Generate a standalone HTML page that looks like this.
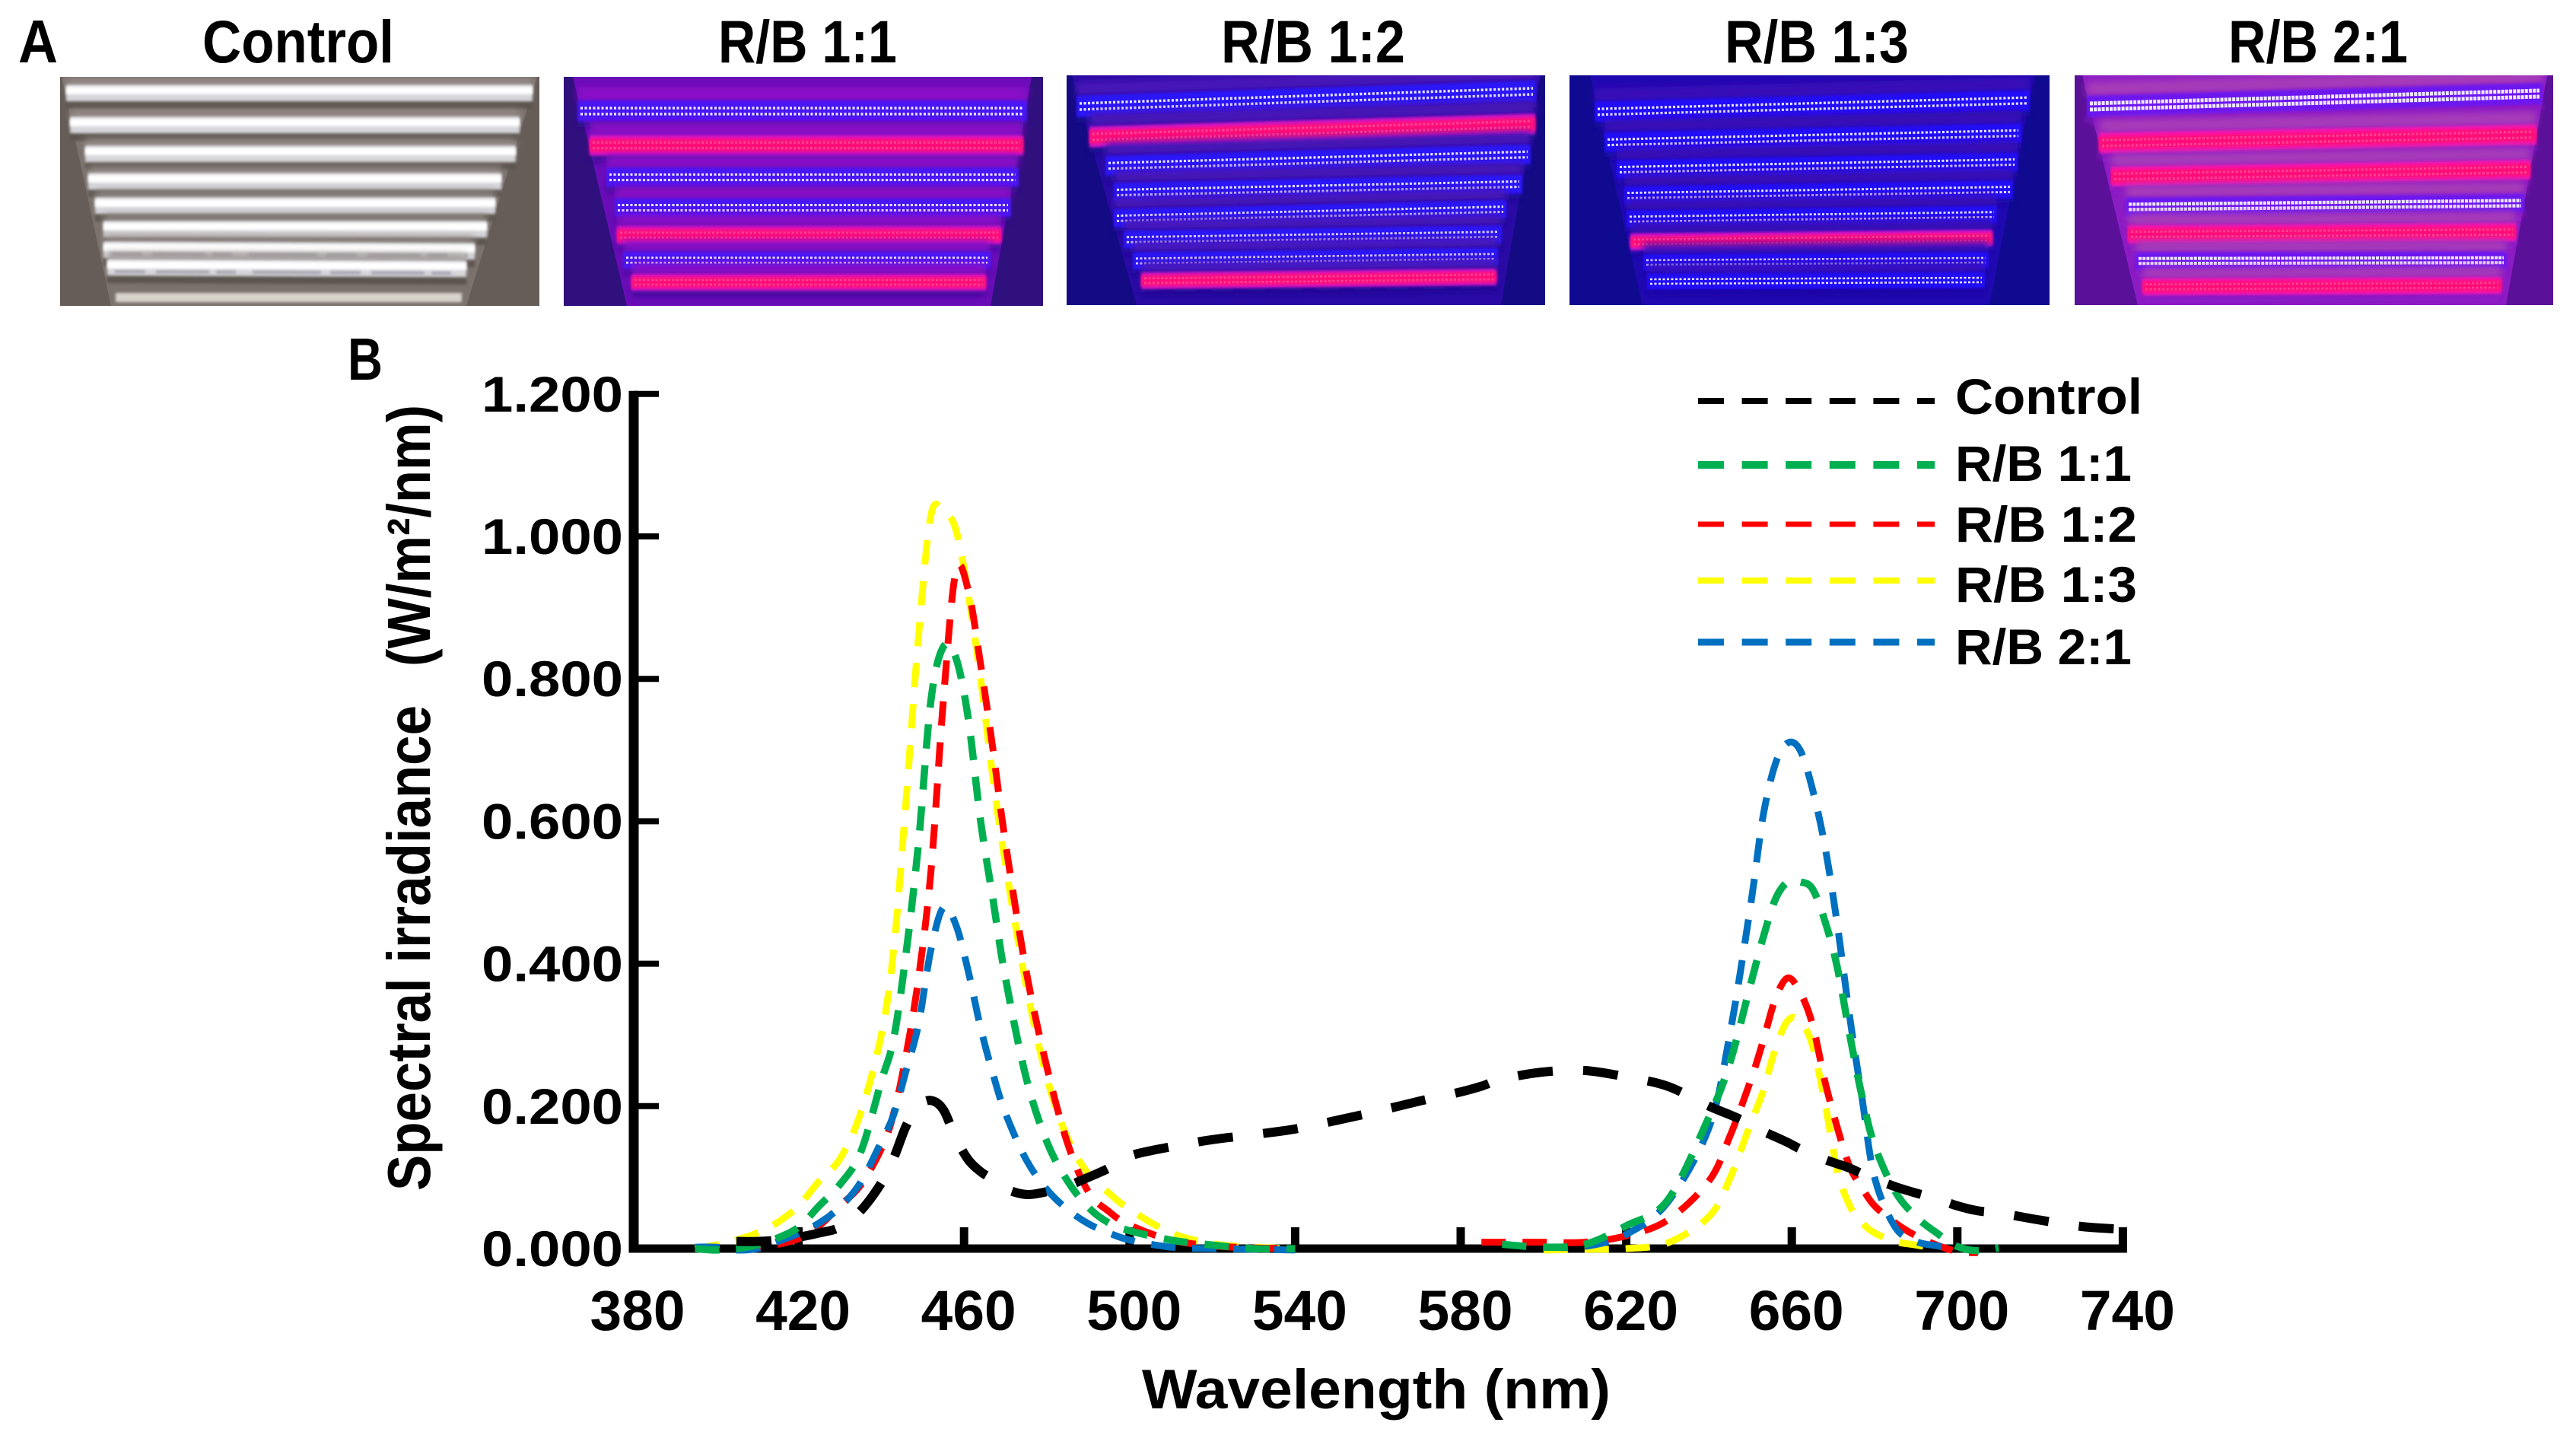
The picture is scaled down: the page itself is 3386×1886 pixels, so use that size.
<!DOCTYPE html>
<html lang="en">
<head>
<meta charset="utf-8">
<title>Light treatments and spectral irradiance</title>
<style>
html,body{margin:0;padding:0;background:#fff;width:3386px;height:1886px;overflow:hidden}
svg{display:block}
text{font-family:"Liberation Sans",sans-serif;font-weight:700;fill:#000}
</style>
</head>
<body>
<svg id="figure" xmlns="http://www.w3.org/2000/svg" width="3386" height="1886" viewBox="0 0 3386 1886">
  <defs>
    <filter id="blur-soft" x="-10%" y="-200%" width="120%" height="500%"><feGaussianBlur stdDeviation="5"/></filter>
    <filter id="blur-fine" x="-10%" y="-200%" width="120%" height="500%"><feGaussianBlur stdDeviation="1.8"/></filter>
  </defs>
  <rect x="0" y="0" width="3386" height="1886" fill="#fff"/>
  <g id="photos"></g>

  <text x="24" y="82" font-size="80" textLength="52" lengthAdjust="spacingAndGlyphs">A</text>
  <text x="266" y="82" font-size="79" textLength="252" lengthAdjust="spacingAndGlyphs">Control</text>
  <text x="944" y="82" font-size="79" textLength="235" lengthAdjust="spacingAndGlyphs">R/B 1:1</text>
  <text x="1605" y="82" font-size="79" textLength="242" lengthAdjust="spacingAndGlyphs">R/B 1:2</text>
  <text x="2267" y="82" font-size="79" textLength="242" lengthAdjust="spacingAndGlyphs">R/B 1:3</text>
  <text x="2929" y="82" font-size="79" textLength="236" lengthAdjust="spacingAndGlyphs">R/B 2:1</text>
  <text x="457" y="499" font-size="78" textLength="46" lengthAdjust="spacingAndGlyphs">B</text>

  <g id="chart"></g>

  <text transform="translate(565,1565) rotate(-90)" font-size="80" textLength="638" lengthAdjust="spacingAndGlyphs">Spectral irradiance</text>
  <text transform="translate(565,876) rotate(-90)" font-size="80" textLength="344" lengthAdjust="spacingAndGlyphs">(W/m²/nm)</text>
  <text x="1501" y="1851" font-size="73" textLength="616" lengthAdjust="spacingAndGlyphs">Wavelength (nm)</text>
</svg>

<script>
// ---------- chart data ----------
const xTickLabels = [380, 420, 460, 500, 540, 580, 620, 660, 700, 740];
const yTickLabels = ["0.000", "0.200", "0.400", "0.600", "0.800", "1.000", "1.200"];
const yTickValues = [0, 0.2, 0.4, 0.6, 0.8, 1.0, 1.2];

const seriesNames = ["Control", "R/B 1:1", "R/B 1:2", "R/B 1:3", "R/B 2:1"];

const wavelengthsBlueBand = [395,400,405,410,415,420,425,430,435,440,443,446,449,452,455,458,461,464,467,470,475,480,485,490,495,500,510,520,530,540];
const wavelengthsMid = [550,560,570,580];
const wavelengthsRedBand = [585,590,600,610,620,630,640,645,650,653,656,659,662,665,668,671,674,677,680,685,690,695,700,705,710];
const wavelengthsTail = [720,730,740];

const controlBlueBand = [null,null,.01,.01,.012,.016,.022,.03,.053,.092,.127,.172,.2,.208,.195,.155,.125,.108,.097,.084,.076,.08,.088,.1,.113,.13,.143,.153,.16,.168];
const controlMid = [.18,.193,.207,.22];
const controlRedBand = [.228,.238,.248,.25,.241,.228,.2,.188,.175,.165,.157,.149,.14,.133,.125,.119,.113,.105,.098,.087,.078,.07,.06,.053,.05];
const controlTail = [.04,.031,.027];

const rb11BlueBand = [0,-.002,0,.005,.015,.03,.06,.09,.135,.235,.295,.415,.57,.77,.845,.83,.745,.60,.49,.38,.24,.15,.095,.058,.036,.025,.012,.005,0,0];
const rb11RedBand = [null,.006,.002,.006,.032,.068,.185,.26,.37,.435,.49,.515,.515,.505,.46,.395,.30,.213,.145,.08,.045,.022,.003,-.003,.001];

const rb12BlueBand = [null,null,0,.002,.006,.014,.032,.06,.089,.14,.19,.272,.38,.53,.77,.95,.925,.82,.70,.57,.39,.255,.148,.08,.052,.033,.012,.004,.001,0];
const rb12RedBand = [.009,.009,.009,.009,.018,.04,.095,.157,.235,.29,.35,.38,.36,.315,.235,.17,.115,.085,.06,.036,.018,.005,-.004,-.006,null];

const rb13BlueBand = [0,.005,.012,.022,.037,.06,.095,.126,.19,.30,.42,.63,.86,1.03,1.035,1.01,.92,.80,.66,.54,.37,.24,.155,.105,.078,.055,.022,.007,.002,0];
const rb13RedBand = [null,null,-.002,-.001,0,.008,.045,.098,.175,.22,.28,.32,.32,.285,.205,.11,.06,.036,.022,.01,.005,0,null,null,null];

const rb21BlueBand = [.002,.002,-.002,0,.01,.021,.036,.058,.093,.15,.188,.25,.315,.42,.479,.455,.39,.31,.245,.19,.125,.083,.055,.035,.022,.012,.002,0,-.001,-.002];
const rb21RedBand = [null,null,.002,.003,.02,.065,.17,.3,.48,.605,.68,.71,.70,.645,.565,.455,.325,.21,.10,.03,.01,.004,0,null,null];

// ---------- scales ----------
const SVGNS = "http://www.w3.org/2000/svg";
const chart = document.getElementById("chart");
function xScale(nm) { return 832 + (nm - 380) * 5.44; }
function yScale(v) { return 1641 - v * 936; }

function make(tag, attrs, parent) {
  const el = document.createElementNS(SVGNS, tag);
  for (const k in attrs) el.setAttribute(k, attrs[k]);
  parent.appendChild(el);
  return el;
}

// ---------- axes ----------
const yAxisLine = make("line", {x1: 833, y1: yScale(1.2) - 4, x2: 833, y2: yScale(0) + 5.5, stroke: "#000", "stroke-width": 13}, chart);


const xAxisLine = make("line", {x1: 827, y1: yScale(0), x2: xScale(740) + 5.5, y2: yScale(0), stroke: "#000", "stroke-width": 11}, chart);



yTickValues.forEach(function (v, i) {
  const tick = make("line", {x1: 833, y1: yScale(v), x2: 866, y2: yScale(v), stroke: "#000", "stroke-width": 8}, chart);
  
  
  const label = make("text", {x: 819, y: yScale(v) + 23, "font-size": 66, "text-anchor": "end", textLength: 186, lengthAdjust: "spacingAndGlyphs"}, chart);
  label.textContent = yTickLabels[i];
  
  
});

xTickLabels.forEach(function (nm) {
  if (nm !== 380) {
    const tick = make("line", {x1: xScale(nm), y1: 1613, x2: xScale(nm), y2: 1641, stroke: "#000", "stroke-width": 11}, chart);
    
    
  }
  const label = make("text", {x: xScale(nm) + 6, y: 1748, "font-size": 74, "text-anchor": "middle", textLength: 125, lengthAdjust: "spacingAndGlyphs"}, chart);
  label.textContent = String(nm);
  
  
});

// ---------- curves ----------
function smoothPath(wl, vals) {
  const pts = [];
  wl.forEach(function (w, i) {
    if (vals[i] !== null) pts.push([xScale(w), yScale(vals[i])]);
  });
  let d = "M" + pts[0][0].toFixed(1) + " " + pts[0][1].toFixed(1);
  for (let i = 0; i < pts.length - 1; i++) {
    const p0 = pts[Math.max(i - 1, 0)], p1 = pts[i], p2 = pts[i + 1], p3 = pts[Math.min(i + 2, pts.length - 1)];
    const c1x = p1[0] + (p2[0] - p0[0]) / 6, c1y = p1[1] + (p2[1] - p0[1]) / 6;
    const c2x = p2[0] - (p3[0] - p1[0]) / 6, c2y = p2[1] - (p3[1] - p1[1]) / 6;
    d += "C" + c1x.toFixed(1) + " " + c1y.toFixed(1) + " " + c2x.toFixed(1) + " " + c2y.toFixed(1) + " " + p2[0].toFixed(1) + " " + p2[1].toFixed(1);
  }
  return d;
}

function colouredCurve(name, band, vals, colour, width) {
  const p = make("path", {d: smoothPath(band, vals), fill: "none", stroke: colour, "stroke-width": width, "stroke-dasharray": "32 22"}, chart);
  
  
}

colouredCurve("curve-rb-1-3-blue-peak", wavelengthsBlueBand, rb13BlueBand, "#ffff00", 9);
colouredCurve("curve-rb-1-3-red-peak", wavelengthsRedBand, rb13RedBand, "#ffff00", 9);
colouredCurve("curve-rb-1-2-blue-peak", wavelengthsBlueBand, rb12BlueBand, "#ff0000", 9);
colouredCurve("curve-rb-1-2-red-peak", wavelengthsRedBand, rb12RedBand, "#ff0000", 9);
colouredCurve("curve-rb-2-1-blue-peak", wavelengthsBlueBand, rb21BlueBand, "#0070c0", 9);
colouredCurve("curve-rb-2-1-red-peak", wavelengthsRedBand, rb21RedBand, "#0070c0", 9);
colouredCurve("curve-rb-1-1-blue-peak", wavelengthsBlueBand, rb11BlueBand, "#00b050", 9.5);
colouredCurve("curve-rb-1-1-red-peak", wavelengthsRedBand, rb11RedBand, "#00b050", 9.5);

const controlWavelengths = wavelengthsBlueBand.concat(wavelengthsMid, wavelengthsRedBand, wavelengthsTail);
const controlValues = controlBlueBand.concat(controlMid, controlRedBand, controlTail);
const controlCurve = make("path", {d: smoothPath(controlWavelengths, controlValues), fill: "none", stroke: "#000", "stroke-width": 12, "stroke-dasharray": "46 40"}, chart);



// ---------- legend ----------
const legendColours = ["#000000", "#00b050", "#ff0000", "#ffff00", "#0070c0"];
const legendRows = [527, 611, 689, 763, 844];
const legendBaselines = [544, 632, 712, 791, 873];
const legendWidths = [246, 232, 239, 239, 232];
const legendStrokes = [8, 10, 7, 8, 9];
const legend = make("g", {}, chart);


seriesNames.forEach(function (name, i) {
  const sw = make("line", {x1: 2232, y1: legendRows[i], x2: 2543, y2: legendRows[i], stroke: legendColours[i], "stroke-width": legendStrokes[i], "stroke-dasharray": "34 23.6"}, legend);
  
  
  const t = make("text", {x: 2570, y: legendBaselines[i], "font-size": 66, textLength: legendWidths[i], lengthAdjust: "spacingAndGlyphs"}, legend);
  t.textContent = name;
  
  
});
</script>

<script>
// ---------- photo approximations (decorative, not chart data) ----------
(function () {
  const NS = "http://www.w3.org/2000/svg";
  const root = document.getElementById("photos");
  const defs = document.querySelector("defs");
  function mk(tag, attrs, parent) {
    const el = document.createElementNS(NS, tag);
    for (const k in attrs) el.setAttribute(k, attrs[k]);
    parent.appendChild(el);
    return el;
  }
  function quad(t, off1, off2) {
    return t[0] + "," + (t[1] + off1) + " " + t[2] + "," + (t[3] + off1) + " " + t[2] + "," + (t[3] + off2) + " " + t[0] + "," + (t[1] + off2);
  }

  const panels = [
    {name: "photo-control", x: 79, y: 101, w: 630, h: 301, bg: "#7b716d", side: "#665c58", upper: "#9a908c", lower: "#5c5450", blue: "#3a14f4", core: "#3a14f4",
     tubes: [[87,122,700,122,"w"],[92,164,683,164,"w"],[112,202,678,202,"w"],[116,238,659,238,"w"],[125,270,651,270,"w"],[136,301,640,301,"w"],[136,328,624,330,"w"],[141,351,613,353,"w"],[152,391,607,391,"f"]]},
    {name: "photo-rb-1-1", x: 741, y: 101, w: 630, h: 301, bg: "#6a0cb8", side: "#30107c", upper: "#8c10c8", lower: "#2e0c90", blue: "#4a18f4", pinkHalo: "#e012c0",
     tubes: [[759,146,1350,146,"b"],[775,191,1345,191,"p"],[797,233,1339,233,"b"],[808,273,1329,273,"b"],[811,309,1316,309,"p"],[819,342,1302,342,"b"],[830,371,1296,371,"p"]]},
    {name: "photo-rb-1-2", x: 1402, y: 99, w: 629, h: 302, bg: "#2a0aa4", side: "#140a84", upper: "#4a12b8", lower: "#180a8c", blue: "#2a14f8", pinkHalo: "#d814c4",
     tubes: [[1415,140,2019,120,"b"],[1432,180,2018,163,"p"],[1453,218,2012,203,"b"],[1464,253,2001,242,"b"],[1464,287,1980,275,"b"],[1477,315,1974,308,"b"],[1489,343,1969,337,"b"],[1500,369,1967,364,"p"]]},
    {name: "photo-rb-1-3", x: 2063, y: 99, w: 631, h: 302, bg: "#2008b0", side: "#100a90", upper: "#3a10b8", lower: "#140a9c", blue: "#2410f8", pinkHalo: "#d814d0",
     tubes: [[2096,147,2668,132,"b"],[2109,187,2657,175,"b"],[2125,223,2652,213,"b"],[2135,257,2646,249,"b"],[2138,288,2625,282,"b"],[2143,318,2619,313,"p"],[2160,345,2614,342,"b"],[2165,370,2609,368,"b"]]},
    {name: "photo-rb-2-1", x: 2727, y: 99, w: 629, h: 302, bg: "#8c1cc4", side: "#5a1098", upper: "#a83cb8", lower: "#8a14c4", blue: "#6c18f0", pinkHalo: "#f818b0",
     tubes: [[2743,140,3342,123,"s"],[2759,188,3334,177,"P"],[2775,232,3326,223,"P"],[2794,272,3318,267,"s"],[2797,308,3307,305,"P"],[2807,343,3295,342,"s"],[2816,377,3288,375,"P"]]}
  ];

  panels.forEach(function (pn, idx) {
    const clip = mk("clipPath", {id: "clip-" + idx}, defs);
    mk("rect", {x: pn.x, y: pn.y, width: pn.w, height: pn.h}, clip);
    const g = mk("g", {"clip-path": "url(#clip-" + idx + ")"}, root);
    
    
    mk("rect", {x: pn.x, y: pn.y, width: pn.w, height: pn.h, fill: pn.bg}, g);

    // darker wings either side of the receding tube rack
    const first = pn.tubes[0], last = pn.tubes[pn.tubes.length - 1];
    const bottom = pn.y + pn.h;
    mk("polygon", {points: pn.x + "," + pn.y + " " + (first[0] - 6) + "," + pn.y + " " + (last[0] - 6) + "," + bottom + " " + pn.x + "," + bottom, fill: pn.side}, g);
    mk("polygon", {points: (pn.x + pn.w) + "," + pn.y + " " + (first[2] + 6) + "," + pn.y + " " + (last[2] + 6) + "," + bottom + " " + (pn.x + pn.w) + "," + bottom, fill: pn.side}, g);

    pn.tubes.forEach(function (t) {
      const kind = t[4];
      if (kind === "f") {
        mk("polygon", {points: quad(t, -6, 6), fill: "#d8d4cc", filter: "url(#blur-fine)"}, g);
        return;
      }
      if (kind === "w") {
        mk("polygon", {points: quad(t, 11, 21), fill: pn.lower, filter: "url(#blur-fine)"}, g);
        mk("polygon", {points: quad(t, -19, -10), fill: pn.upper, filter: "url(#blur-soft)"}, g);
        mk("polygon", {points: quad(t, -11, 11), fill: "#d6d6da", filter: "url(#blur-fine)"}, g);
        mk("polygon", {points: quad(t, -8, 2), fill: "#ffffff", filter: "url(#blur-fine)"}, g);
        mk("line", {x1: t[0] + 10, y1: t[1] + 6, x2: t[2] - 10, y2: t[3] + 6, stroke: "#77778a", "stroke-width": 4, "stroke-opacity": 0.55, "stroke-dasharray": "40 14 70 9 26 22 90 12", filter: "url(#blur-fine)"}, g);
        return;
      }
      const isBlue = kind === "b" || kind === "s";
      const scale = Math.max(0.72, (t[2] - t[0]) / 600);
      const halo = isBlue ? pn.blue : pn.pinkHalo;
      const dots = isBlue ? "#ffffff" : "#ff70ac";
      mk("polygon", {points: quad(t, -32 * scale, -14 * scale), fill: pn.upper, filter: "url(#blur-soft)"}, g);
      mk("polygon", {points: quad(t, 13 * scale, 22 * scale), fill: pn.lower, filter: "url(#blur-soft)"}, g);
      mk("polygon", {points: quad(t, -14 * scale, 14 * scale), fill: halo, filter: "url(#blur-fine)"}, g);
      if (!isBlue) mk("polygon", {points: quad(t, -9 * scale, 9 * scale), fill: "#ff1078", filter: "url(#blur-fine)"}, g);
      [-4 * scale, 4 * scale].forEach(function (o) {
        mk("line", {x1: t[0] + 4, y1: t[1] + o, x2: t[2] - 4, y2: t[3] + o, stroke: dots, "stroke-width": (kind === "s" ? 5 : 3.4) * scale, "stroke-dasharray": kind === "s" ? "4 1.2" : "3 2.5", "stroke-opacity": isBlue ? 0.9 : 0.55}, g);
      });
    });
  });
})();
</script>
</body>
</html>
